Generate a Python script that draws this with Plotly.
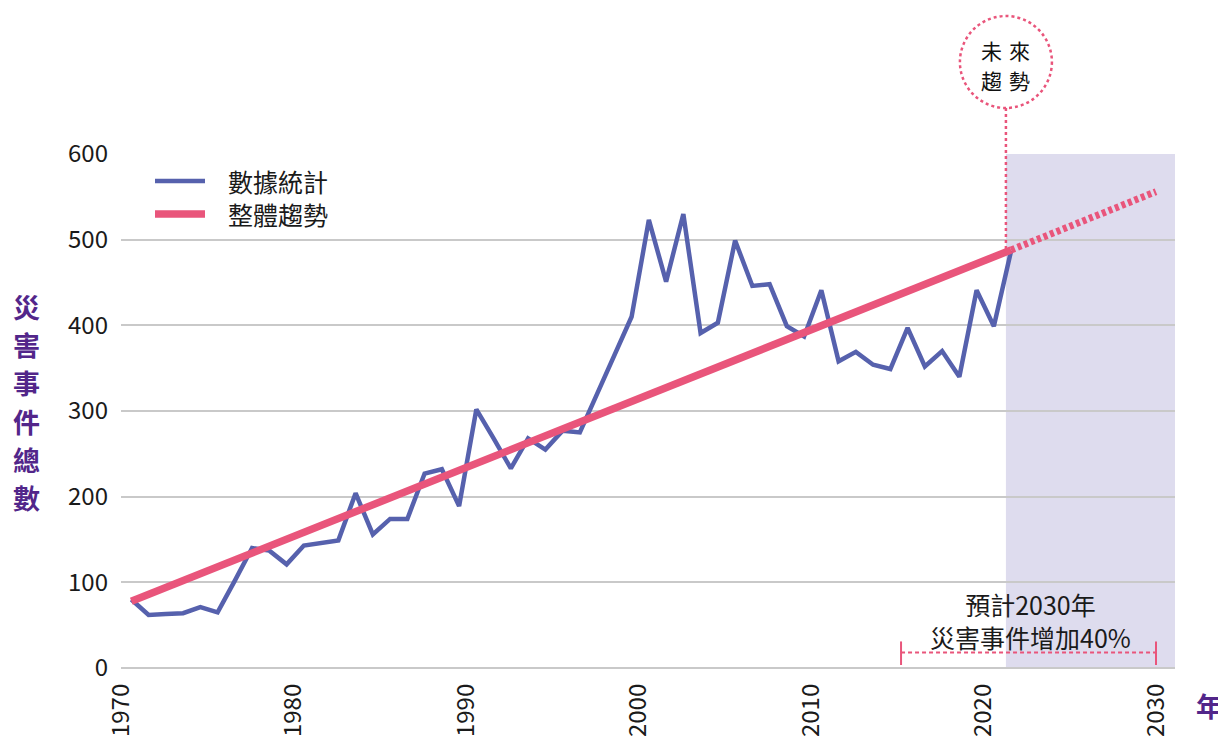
import plotly.graph_objects as go

# ---------------- data ----------------
years = list(range(1970, 2022))
events = [80, 62, 63, 64, 71, 65, 102, 140, 137, 121,
          143, 146, 149, 204, 156, 174, 174, 227, 232, 189,
          302, 268, 233, 268, 255, 277, 275, 320, 365, 410,
          523, 451, 530, 391, 403, 499, 446, 448, 399, 387,
          441, 358, 369, 354, 349, 397, 352, 370, 340, 441,
          399, 487]

trend_years = [1970, 2021]
trend_values = [78, 488]
target_year = 2030
target_value = 556

x_ticks = [1970, 1980, 1990, 2000, 2010, 2020, 2030]
y_ticks = [0, 100, 200, 300, 400, 500, 600]

series_names = ["數據統計", "整體趨勢"]
y_title = "災害事件總數"
x_title = "年"
circle_lines = ["未\u2004來", "趨\u2004勢"]
note_text = "預計2030年<br>災害事件增加40%"

# ---------------- style ----------------
BLUE = "#5661AD"
PINK = "#E9557B"
PURPLE = "#52268A"
GRID = "#C9C9C9"
SHADE = "#DEDCEE"
TEXT = "#1A1A1A"
FONT = "Noto Sans CJK TC, Noto Sans, sans-serif"

PAGE_OFFSET = 8          # default body margin of the html page
W, H = 1218, 729
ML, MR, MT, MB = 113, 51, 146, 69
PW, PH = W - ML - MR, H - MT - MB
X_RANGE = [1970, 1970 + PW / 17.25]
SHIFT = 0.6              # points sit between yearly ticks in the original
FORECAST_START = 2021.3
NOTE_X, NOTE_Y = 2022.7, 55
SPAN_START = 2015.22


def px_x(p):   # screen pixel -> paper x
    return (p - PAGE_OFFSET - ML) / PW


def px_y(p):   # screen pixel -> paper y
    return (PAGE_OFFSET + H - MB - p) / PH


fig = go.Figure()

fig.add_trace(go.Scatter(
    x=[y + SHIFT for y in years], y=events, mode="lines",
    name=series_names[0], line=dict(color=BLUE, width=4.5),
    showlegend=False))

fig.add_trace(go.Scatter(
    x=[y + SHIFT for y in trend_years], y=trend_values, mode="lines",
    name=series_names[1], line=dict(color=PINK, width=7.5),
    showlegend=False))

fig.add_trace(go.Scatter(
    x=[trend_years[-1] + SHIFT, target_year],
    y=[trend_values[-1], target_value], mode="lines",
    name=series_names[1], line=dict(color=PINK, width=7, dash="4px,3px"),
    showlegend=False))

shapes = []
shapes.append(dict(type="rect", xref="x", yref="y", x0=FORECAST_START, x1=X_RANGE[1],
                   y0=0, y1=600, fillcolor=SHADE, line=dict(width=0), layer="below"))
shapes.append(dict(type="circle", xref="x", yref="paper", xsizemode="pixel", ysizemode="pixel",
                   xanchor=FORECAST_START, yanchor=px_y(62), x0=-46, x1=46, y0=-46, y1=46,
                   line=dict(color=PINK, width=2.5, dash="3px,3px")))
shapes.append(dict(type="line", xref="x", yref="paper", x0=FORECAST_START, x1=FORECAST_START,
                   y0=px_y(108), y1=trend_values[-1] / 600,
                   line=dict(color=PINK, width=2.5, dash="3px,3px")))
shapes.append(dict(type="line", xref="x", yref="y", x0=SPAN_START, x1=target_year,
                   y0=18, y1=18, line=dict(color=PINK, width=2, dash="4px,3px")))
for xc in (SPAN_START, target_year):
    shapes.append(dict(type="line", xref="x", yref="y", x0=xc, x1=xc, y0=3.5, y1=31,
                       line=dict(color=PINK, width=2)))
shapes.append(dict(type="line", xref="paper", yref="paper", x0=px_x(155), x1=px_x(205),
                   y0=px_y(181), y1=px_y(181), line=dict(color=BLUE, width=4.5)))
shapes.append(dict(type="line", xref="paper", yref="paper", x0=px_x(155), x1=px_x(205),
                   y0=px_y(214), y1=px_y(214), line=dict(color=PINK, width=7.5)))

annotations = []
for name, yp in zip(series_names, (181, 214)):
    annotations.append(dict(xref="paper", yref="paper", x=px_x(226), y=px_y(yp),
                            text=name, showarrow=False, xanchor="left", yanchor="middle",
                            font=dict(family=FONT, size=25, color=TEXT)))
for i, ch in enumerate(y_title):
    annotations.append(dict(xref="paper", yref="paper", x=px_x(26), y=px_y(306.5 + i * 38.2),
                            text=ch, showarrow=False, xanchor="center", yanchor="middle",
                            font=dict(family=FONT, size=27, color=PURPLE, weight="bold")))
annotations.append(dict(xref="paper", yref="paper", x=px_x(1209), y=px_y(705), text=x_title,
                        showarrow=False, xanchor="center", yanchor="middle",
                        font=dict(family=FONT, size=27, color=PURPLE, weight="bold")))
for line, yp in zip(circle_lines, (50, 80)):
    annotations.append(dict(xref="x", yref="paper", x=FORECAST_START, y=px_y(yp), text=line,
                            showarrow=False, xanchor="center", yanchor="middle",
                            font=dict(family=FONT, size=21, color="#111111")))
annotations.append(dict(xref="x", yref="y", x=NOTE_X, y=NOTE_Y, text=note_text,
                        showarrow=False, xanchor="center", yanchor="middle",
                        font=dict(family=FONT, size=25, color=TEXT)))

fig.update_layout(
    width=W, height=H,
    margin=dict(l=ML, r=MR, t=MT, b=MB, pad=0, autoexpand=False),
    paper_bgcolor="white", plot_bgcolor="white",
    font=dict(family=FONT, size=24, color=TEXT),
    shapes=shapes, annotations=annotations,
    showlegend=False,
    xaxis=dict(range=X_RANGE, tickvals=x_ticks, ticktext=[str(t) for t in x_ticks],
               tickangle=-90, showgrid=False, zeroline=False, showline=False, ticks="",
               automargin=False, ticklabelstandoff=10,
               tickfont=dict(family=FONT, size=24, color=TEXT), fixedrange=True),
    yaxis=dict(range=[0, 600], tickvals=y_ticks, showgrid=True, gridcolor=GRID, gridwidth=2,
               zeroline=True, zerolinecolor=GRID, zerolinewidth=2, showline=False, ticks="",
               automargin=False, ticklabelstandoff=12,
               tickfont=dict(family=FONT, size=24, color=TEXT), fixedrange=True),
)

fig.write_html("out.html")
